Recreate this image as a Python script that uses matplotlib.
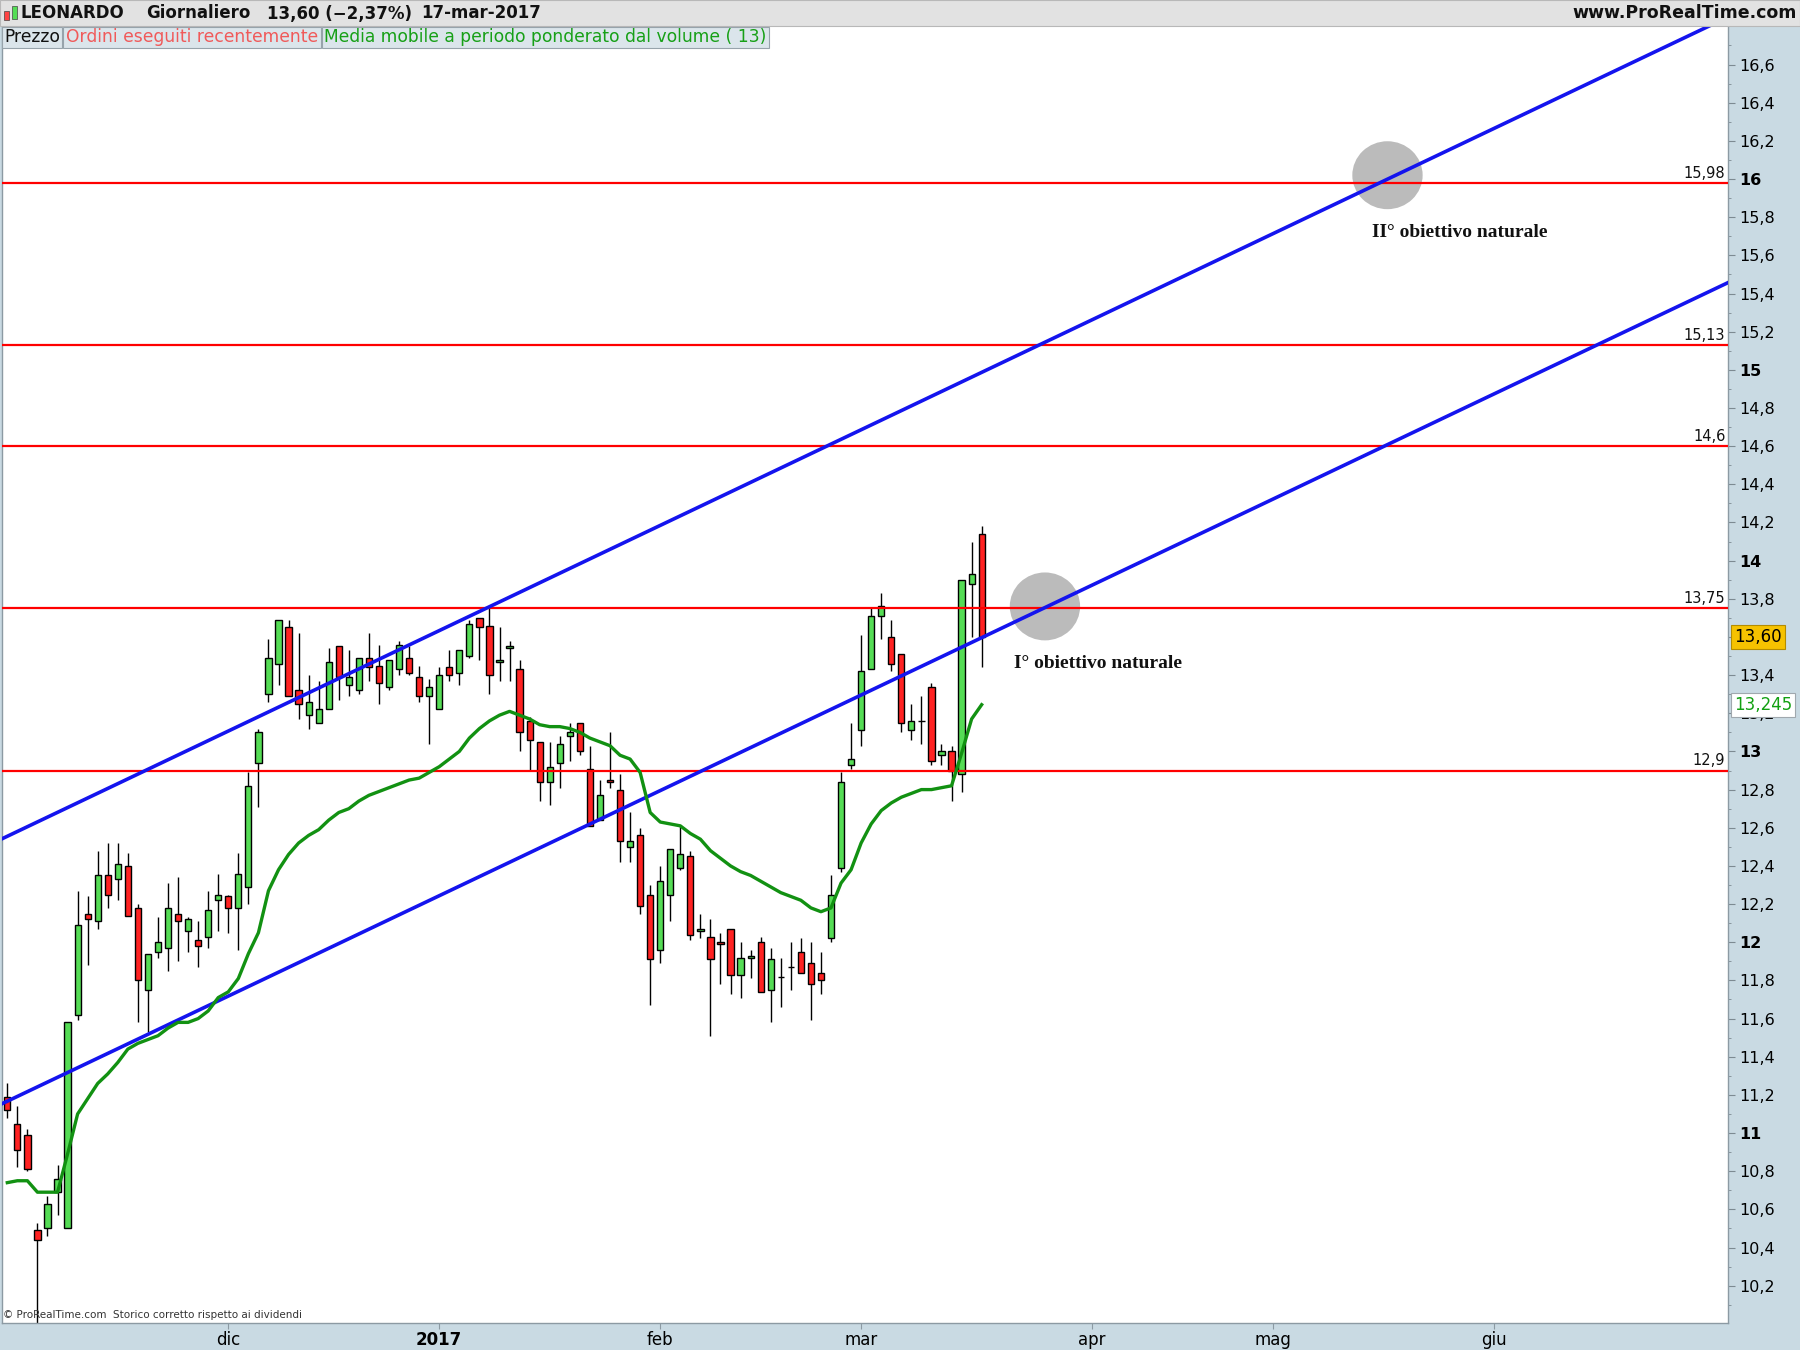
import numpy as np
import pandas as pd
import matplotlib
matplotlib.use('Agg')
import matplotlib.pyplot as plt
from matplotlib.patches import Rectangle, Ellipse

# --- data (LEONARDO, daily, 1 nov 2016 -> 17 mar 2017) ---
opens = [11.19, 11.05, 10.99, 10.49, 10.50, 10.69, 10.50, 11.62, 12.15, 12.11,
         12.35, 12.33, 12.40, 12.18, 11.75, 11.95, 11.97, 12.15, 12.06, 12.01,
         12.03, 12.22, 12.24, 12.18, 12.29, 12.94, 13.30, 13.46, 13.65, 13.32,
         13.19, 13.15, 13.22, 13.55, 13.35, 13.32, 13.49, 13.45, 13.34, 13.43,
         13.49, 13.39, 13.29, 13.22, 13.44, 13.41, 13.50, 13.70, 13.66, 13.47,
         13.54, 13.43, 13.16, 13.05, 12.84, 12.94, 13.08, 13.15, 12.91, 12.64,
         12.85, 12.80, 12.50, 12.56, 12.25, 11.96, 12.25, 12.39, 12.45, 12.06,
         12.03, 12.00, 12.07, 11.83, 11.92, 12.00, 11.75, 11.82, 11.87, 11.95,
         11.89, 11.84, 12.02, 12.39, 12.93, 13.11, 13.43, 13.71, 13.60, 13.51,
         13.11, 13.16, 13.34, 12.98, 13.00, 12.88, 13.88, 14.14]
highs = [11.26, 11.14, 11.02, 10.53, 10.67, 10.83, 11.58, 12.27, 12.24, 12.48,
         12.52, 12.52, 12.47, 12.20, 11.94, 12.13, 12.31, 12.34, 12.13, 12.11,
         12.27, 12.36, 12.25, 12.47, 12.89, 13.12, 13.59, 13.69, 13.69, 13.62,
         13.40, 13.37, 13.54, 13.55, 13.53, 13.49, 13.62, 13.56, 13.48, 13.58,
         13.55, 13.45, 13.38, 13.44, 13.53, 13.53, 13.69, 13.70, 13.75, 13.65,
         13.58, 13.48, 13.18, 13.05, 13.05, 13.08, 13.15, 13.15, 13.03, 12.85,
         13.10, 12.88, 12.68, 12.60, 12.30, 12.40, 12.49, 12.61, 12.48, 12.15,
         12.12, 12.05, 12.07, 12.00, 11.96, 12.03, 11.97, 11.92, 12.00, 12.02,
         12.00, 11.95, 12.35, 12.89, 13.15, 13.61, 13.75, 13.83, 13.69, 13.51,
         13.25, 13.29, 13.36, 13.04, 13.03, 13.90, 14.10, 14.18]
lows = [11.08, 10.82, 10.80, 9.95, 10.46, 10.57, 10.50, 11.59, 11.88, 12.07,
        12.18, 12.22, 12.14, 11.58, 11.53, 11.92, 11.85, 11.90, 11.95, 11.87,
        11.97, 12.06, 12.05, 11.96, 12.20, 12.71, 13.26, 13.35, 13.29, 13.17,
        13.12, 13.15, 13.22, 13.27, 13.29, 13.30, 13.37, 13.25, 13.32, 13.40,
        13.40, 13.26, 13.04, 13.22, 13.37, 13.35, 13.49, 13.48, 13.30, 13.37,
        13.37, 13.00, 12.90, 12.74, 12.72, 12.81, 12.95, 12.98, 12.61, 12.64,
        12.81, 12.42, 12.42, 12.15, 11.67, 11.89, 12.11, 12.38, 12.01, 12.02,
        11.51, 11.78, 11.73, 11.71, 11.81, 11.74, 11.58, 11.66, 11.75, 11.84,
        11.59, 11.73, 12.00, 12.37, 12.91, 13.03, 13.43, 13.59, 13.42, 13.10,
        13.06, 13.04, 12.93, 12.93, 12.74, 12.79, 13.60, 13.44]
closes = [11.12, 10.91, 10.81, 10.44, 10.63, 10.76, 11.58, 12.09, 12.12, 12.35,
          12.25, 12.41, 12.14, 11.80, 11.94, 12.00, 12.18, 12.11, 12.12, 11.98,
          12.17, 12.25, 12.18, 12.36, 12.82, 13.10, 13.49, 13.69, 13.29, 13.25,
          13.26, 13.22, 13.47, 13.39, 13.39, 13.49, 13.44, 13.36, 13.48, 13.56,
          13.41, 13.29, 13.34, 13.40, 13.40, 13.53, 13.67, 13.65, 13.40, 13.48,
          13.55, 13.10, 13.06, 12.84, 12.92, 13.04, 13.10, 13.00, 12.61, 12.77,
          12.84, 12.53, 12.53, 12.19, 11.91, 12.32, 12.49, 12.46, 12.04, 12.07,
          11.91, 11.99, 11.83, 11.92, 11.93, 11.74, 11.91, 11.82, 11.87, 11.84,
          11.78, 11.80, 12.25, 12.84, 12.96, 13.42, 13.71, 13.76, 13.46, 13.15,
          13.16, 13.16, 12.95, 13.00, 12.90, 13.90, 13.93, 13.60]
vwma13 = [10.74, 10.75, 10.75, 10.69, 10.69, 10.69, 10.89, 11.10, 11.18, 11.26,
          11.31, 11.37, 11.44, 11.47, 11.49, 11.51, 11.55, 11.58, 11.58, 11.60,
          11.64, 11.71, 11.74, 11.81, 11.94, 12.05, 12.27, 12.38, 12.46, 12.52,
          12.56, 12.59, 12.64, 12.68, 12.70, 12.74, 12.77, 12.79, 12.81, 12.83,
          12.85, 12.86, 12.89, 12.92, 12.96, 13.00, 13.07, 13.12, 13.16, 13.19,
          13.21, 13.19, 13.17, 13.14, 13.13, 13.13, 13.12, 13.10, 13.07, 13.05,
          13.03, 12.98, 12.96, 12.89, 12.68, 12.63, 12.62, 12.61, 12.57, 12.54,
          12.48, 12.44, 12.40, 12.37, 12.35, 12.32, 12.29, 12.26, 12.24, 12.22,
          12.18, 12.16, 12.18, 12.31, 12.38, 12.52, 12.62, 12.69, 12.73, 12.76,
          12.78, 12.80, 12.80, 12.81, 12.82, 12.99, 13.17, 13.245]

levels = [15.98, 15.13, 14.6, 13.75, 12.9]
level_labels = ['15,98', '15,13', '14,6', '13,75', '12,9']

# trend channel, two anchor points each (bar index, price)
upper_line = [(21.17, 13.086), (171.3, 16.849)]
lower_line = [(21.17, 11.697), (171.3, 15.457)]

targets = [(137.4, 16.02, 'II° obiettivo naturale', 135.9, 15.72),
           (103.3, 13.76, 'I° obiettivo naturale', 100.2, 13.46)]

holidays = ['2016-12-26', '2017-04-14', '2017-04-17', '2017-05-01']
month_labels = ['dic', '2017', 'feb', 'mar', 'apr', 'mag', 'giu']

W, H = 1800, 1350
PANEL = '#c9dae3'


def fx(px):
    return px / W


def fy(px):
    return 1 - px / H


def draw_candles(ax):
    x = np.arange(len(closes))
    o = np.array(opens)
    c = np.array(closes)
    ax.vlines(x, lows, highs, color='black', lw=1.0, zorder=2)
    colors = np.where(c >= o, '#55dc55', '#ff2222')
    ax.bar(x, np.abs(c - o), bottom=np.minimum(o, c), width=0.62,
           color=colors, edgecolor='black', linewidth=1.0, zorder=2.2)


def main():
    fig = plt.figure(figsize=(18, 13.5), dpi=100, facecolor=PANEL)
    plt.rcParams['font.family'] = ['DejaVu Sans']

    ax = fig.add_axes([fx(2), (H - 1322.7) / H, fx(1726), 1296.7 / H])
    ax.set_facecolor('white')

    dates = pd.bdate_range('2016-11-01', '2017-06-30')
    dates = dates[~dates.isin(pd.to_datetime(holidays))]
    starts = [i for i in range(1, len(dates)) if dates[i].month != dates[i - 1].month]

    draw_candles(ax)

    for lv, lab in zip(levels, level_labels):
        ax.axhline(lv, color='#ff0000', lw=1.6, zorder=3)
        ax.text(0.9985, lv + 0.012, lab, transform=ax.get_yaxis_transform(),
                ha='right', va='bottom', fontsize=10.5, color='#111111', zorder=6)

    for cx, cy, txt, tx, ty in targets:
        ax.add_patch(Ellipse((cx, cy), 7.0, 0.356, color='#bbbbbb', zorder=2.5, lw=0))
        ax.text(tx, ty, txt, family='Liberation Serif', weight='bold',
                fontsize=14, va='center', ha='left', color='#111111', zorder=6)

    for line in (upper_line, lower_line):
        (x0, y0), (x1, y1) = line
        slope = (y1 - y0) / (x1 - x0)
        ax.plot([x0 - 30, x1 + 5], [y0 - 30 * slope, y1 + 5 * slope],
                color='#1414ee', lw=2.6, zorder=4, solid_capstyle='butt')

    ax.plot(np.arange(len(vwma13)), vwma13, color='#129112', lw=2.4, zorder=4.5)

    ax.set_xlim(-0.528, 171.3)
    ax.set_ylim(10.006, 16.802)

    ax.spines['top'].set_visible(False)
    for s in ('left', 'right', 'bottom'):
        ax.spines[s].set_color('#8c9aa3')
        ax.spines[s].set_linewidth(1.0)

    ax.set_xticks(starts[:len(month_labels)])
    ax.set_xticklabels(month_labels, fontsize=12)
    for t in ax.get_xticklabels():
        if t.get_text() == '2017':
            t.set_fontweight('bold')
    ax.tick_params(axis='x', direction='out', length=4, pad=2, color='#8c9aa3')

    # price scale; 13,6 sits under the last-price box, so it is left blank
    yt = np.round(np.arange(10.2, 16.61, 0.2), 1)
    ylabels = []
    for v in yt:
        if abs(v - round(v)) < 1e-6:
            ylabels.append(str(int(round(v))))
        elif abs(v - 13.6) < 1e-6:
            ylabels.append('')
        else:
            ylabels.append(f'{v:.1f}'.replace('.', ','))
    ax.yaxis.tick_right()
    ax.set_yticks(yt)
    ax.set_yticklabels(ylabels, fontsize=11.5)
    for t in ax.get_yticklabels():
        if t.get_text() and ',' not in t.get_text():
            t.set_fontweight('bold')
    ax.set_yticks(np.round(np.arange(10.1, 16.8, 0.2), 1), minor=True)
    ax.tick_params(axis='y', which='major', direction='out', length=5, pad=3, color='#7d8a92')
    ax.tick_params(axis='y', which='minor', direction='out', length=2.5, color='#7d8a92')

    ytr = ax.get_yaxis_transform()
    ax.text(1.0035, closes[-1], '13,60', transform=ytr, ha='left', va='center',
            fontsize=12, color='black', clip_on=False, zorder=10,
            bbox=dict(boxstyle='square,pad=0.18', fc='#f6c200', ec='#b48c00', lw=0.8))
    ax.text(1.0035, vwma13[-1], '13,245', transform=ytr, ha='left', va='center',
            fontsize=12, color='#12a012', clip_on=False, zorder=10,
            bbox=dict(boxstyle='square,pad=0.18', fc='white', ec='#a0a8ae', lw=0.8))

    # header bar
    fig.patches.append(Rectangle((0, fy(26)), 1, 26 / H, transform=fig.transFigure,
                                 fc='#e2e2e2', ec='#b8b8b8', lw=0.8, zorder=1))
    fig.patches.append(Rectangle((fx(4), fy(20)), fx(5), 9 / H, transform=fig.transFigure,
                                 fc='#ff4444', ec='#444444', lw=0.5, zorder=2))
    fig.patches.append(Rectangle((fx(12), fy(19)), fx(5), 13 / H, transform=fig.transFigure,
                                 fc='#55dd55', ec='#444444', lw=0.5, zorder=2))
    head_y = fy(13.5)
    for px, txt in [(21, 'LEONARDO'), (146, 'Giornaliero'),
                    (267, '13,60 (−2,37%)'), (421, '17-mar-2017')]:
        fig.text(fx(px), head_y, txt, fontsize=12, weight='bold', va='center',
                 color='#111111')
    fig.text(fx(1797), head_y, 'www.ProRealTime.com', fontsize=12.5, weight='bold',
             va='center', ha='right', color='#111111')

    # legend row
    renderer = fig.canvas.get_renderer()
    x_px = 1.5
    for txt, col in [('Prezzo', '#111111'),
                     ('Ordini eseguiti recentemente', '#f05a5a'),
                     ('Media mobile a periodo ponderato dal volume ( 13)', '#17a017')]:
        t = fig.text(fx(x_px + 2.5), fy(37.5), txt, fontsize=12.3, color=col,
                     va='center', ha='left', zorder=5)
        bb = t.get_window_extent(renderer)
        right = bb.x1 + 2.5
        fig.patches.append(Rectangle((fx(x_px), fy(48)), fx(right - x_px), 21 / H,
                                     transform=fig.transFigure, fc='#dbe5eb',
                                     ec='#97a3ab', lw=0.8, zorder=4))
        x_px = right + 1

    fig.text(fx(3), fy(1315), '© ProRealTime.com  Storico corretto rispetto ai dividendi',
             fontsize=7.5, color='#333333', va='center', ha='left')

    fig.savefig('out.png', dpi=100, facecolor=fig.get_facecolor())


if __name__ == '__main__':
    main()
